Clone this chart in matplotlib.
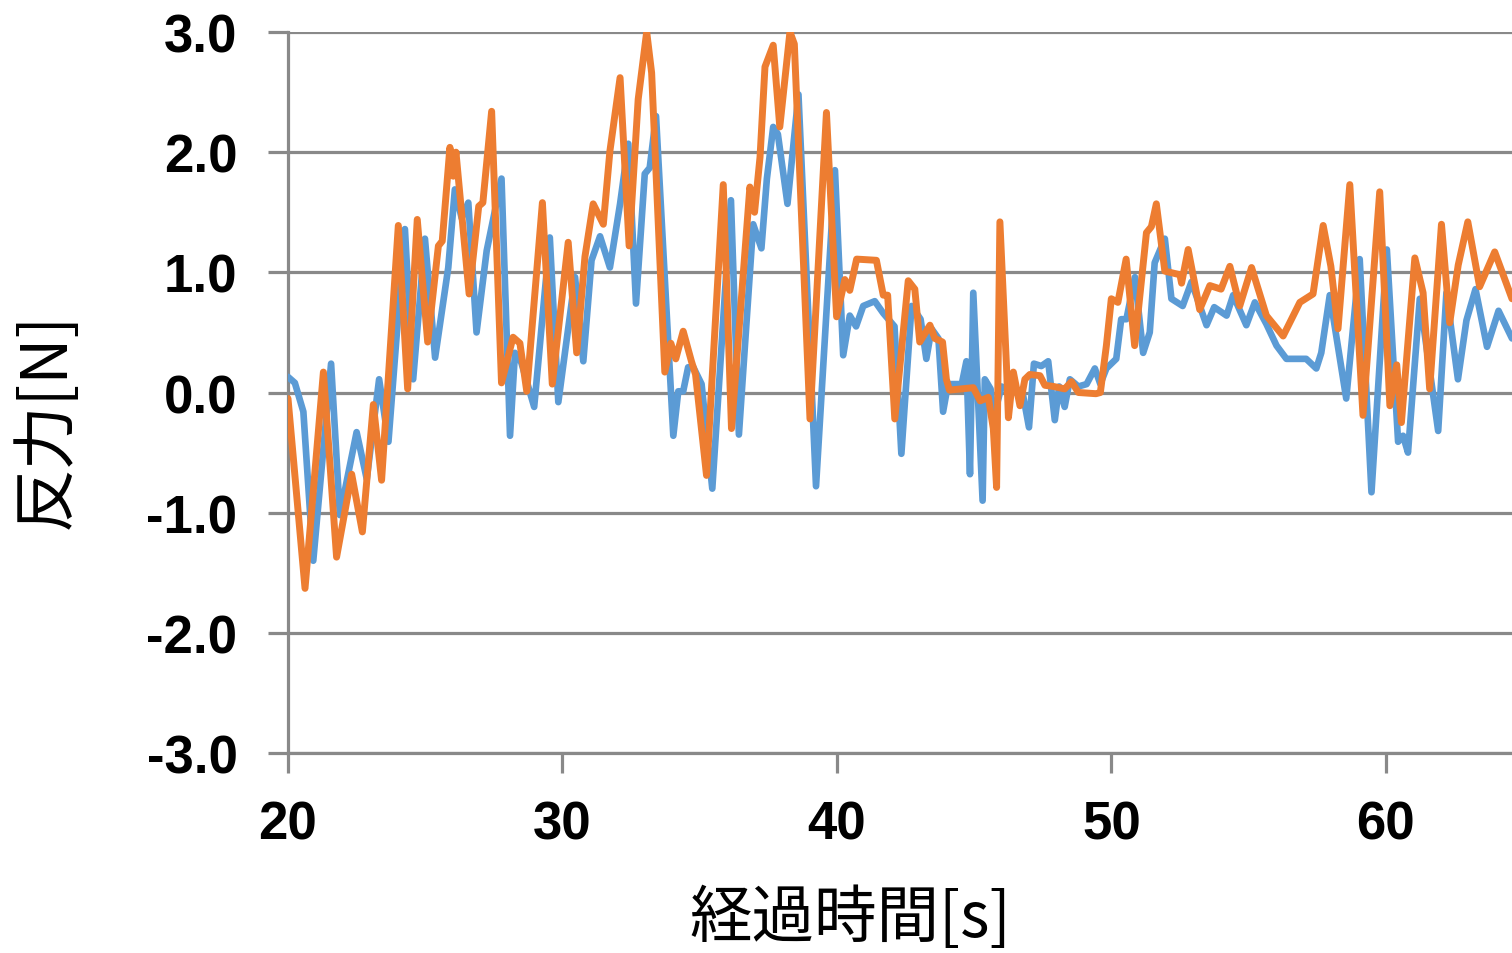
import matplotlib
matplotlib.use("Agg")
import matplotlib.pyplot as plt

# ---- data ----
t_blue = [20.00, 20.25, 20.56, 20.92, 21.57, 21.89, 22.50, 22.87, 23.32, 23.66,
          24.26, 24.56, 24.99, 25.36, 25.84, 26.08, 26.33, 26.57, 26.87, 27.24,
          27.78, 28.09, 28.27, 28.50, 28.97, 29.54, 29.85, 30.46, 30.76, 31.06,
          31.37, 31.73, 32.10, 32.40, 32.68, 33.00, 33.18, 33.41, 34.04, 34.22,
          34.40, 34.58, 34.77, 35.07, 35.46, 36.14, 36.43, 36.95, 37.25, 37.45,
          37.68, 37.85, 38.20, 38.60, 39.24, 39.93, 40.23, 40.47, 40.70, 40.96,
          41.38, 41.69, 42.10, 42.35, 42.72, 43.05, 43.26, 43.45, 43.70, 43.87,
          44.05, 44.55, 44.72, 44.85, 44.97, 45.31, 45.39, 45.60, 45.72, 46.00,
          46.40, 46.75, 47.00, 47.18, 47.45, 47.70, 47.94, 48.10, 48.30, 48.49,
          48.80, 49.10, 49.40, 49.60, 49.82, 50.18, 50.36, 50.55, 50.86, 51.16,
          51.40, 51.58, 51.95, 52.19, 52.60, 52.92, 53.47, 53.75, 54.20, 54.44,
          54.92, 55.23, 55.65, 56.02, 56.38, 57.10, 57.47, 57.65, 57.96, 58.56,
          59.05, 59.48, 60.04, 60.45, 60.63, 60.81, 61.24, 61.91, 62.21, 62.63,
          62.94, 63.27, 63.69, 64.11, 64.60]
f_blue = [0.13, 0.08, -0.16, -1.40, 0.24, -1.02, -0.33, -0.72, 0.11, -0.41,
          1.36, 0.11, 1.28, 0.29, 1.04, 1.69, 1.45, 1.58, 0.50, 1.18,
          1.78, -0.36, 0.33, 0.25, -0.12, 1.29, -0.08, 0.96, 0.26, 1.10,
          1.30, 1.04, 1.57, 2.07, 0.74, 1.82, 1.87, 2.30, -0.36, 0.01,
          0.01, 0.21, 0.21, 0.07, -0.80, 1.60, -0.35, 1.40, 1.20, 1.78,
          2.21, 2.15, 1.57, 2.48, -0.78, 1.85, 0.31, 0.64, 0.55, 0.72,
          0.76, 0.66, 0.55, -0.51, 0.72, 0.61, 0.28, 0.53, 0.45, -0.16,
          0.07, 0.07, 0.26, -0.68, 0.83, -0.90, 0.11, 0.03, -0.20, 0.05,
          0.00, 0.02, -0.29, 0.24, 0.22, 0.26, -0.23, 0.05, -0.12, 0.11,
          0.05, 0.07, 0.20, 0.07, 0.20, 0.28, 0.61, 0.61, 0.96, 0.33,
          0.50, 1.08, 1.28, 0.78, 0.72, 0.92, 0.56, 0.71, 0.64, 0.81,
          0.56, 0.75, 0.57, 0.39, 0.28, 0.28, 0.20, 0.33, 0.81, -0.05,
          1.11, -0.83, 1.19, -0.41, -0.36, -0.50, 0.78, -0.32, 0.83, 0.11,
          0.60, 0.86, 0.38, 0.68, 0.45]

t_orange = [20.00, 20.62, 21.29, 21.77, 22.32, 22.71, 23.11, 23.41, 24.02, 24.36,
            24.71, 25.09, 25.48, 25.62, 25.90, 26.02, 26.12, 26.60, 26.95, 27.10,
            27.42, 27.78, 28.20, 28.45, 28.70, 29.27, 29.63, 30.21, 30.52, 30.82,
            31.12, 31.49, 31.73, 32.10, 32.43, 32.76, 33.07, 33.25, 33.73, 33.95,
            34.13, 34.40, 34.70, 34.85, 35.25, 35.86, 36.16, 36.83, 37.00, 37.20,
            37.38, 37.68, 37.92, 38.29, 38.45, 39.02, 39.62, 39.99, 40.29, 40.47,
            40.72, 41.44, 41.69, 41.85, 42.11, 42.60, 42.84, 43.02, 43.39, 43.57,
            43.85, 43.99, 44.10, 44.97, 45.22, 45.52, 45.70, 45.82, 45.94, 46.18,
            46.25, 46.43, 46.67, 46.85, 47.03, 47.40, 47.58, 47.90, 48.30, 48.55,
            48.80, 49.44, 49.60, 49.82, 50.00, 50.24, 50.54, 50.85, 51.28, 51.46,
            51.64, 51.95, 52.50, 52.56, 52.80, 53.22, 53.59, 54.00, 54.32, 54.68,
            55.11, 55.65, 56.26, 56.87, 57.35, 57.72, 58.00, 58.26, 58.69, 59.17,
            59.78, 60.15, 60.40, 60.57, 61.06, 61.36, 61.60, 62.03, 62.33, 62.64,
            62.99, 63.42, 63.97, 64.60]
f_orange = [-0.05, -1.63, 0.17, -1.37, -0.68, -1.16, -0.10, -0.73, 1.39, 0.03,
            1.44, 0.42, 1.22, 1.26, 2.04, 1.80, 2.00, 0.82, 1.55, 1.58,
            2.34, 0.08, 0.46, 0.41, 0.01, 1.58, 0.07, 1.25, 0.33, 1.13,
            1.57, 1.40, 2.01, 2.62, 1.22, 2.44, 3.00, 2.66, 0.17, 0.41,
            0.28, 0.51, 0.26, 0.15, -0.69, 1.73, -0.30, 1.71, 1.50, 1.96,
            2.71, 2.89, 2.21, 3.00, 2.90, -0.22, 2.33, 0.63, 0.94, 0.85,
            1.11, 1.10, 0.81, 0.81, -0.22, 0.93, 0.86, 0.42, 0.56, 0.45,
            0.42, 0.11, 0.02, 0.04, -0.07, -0.04, -0.30, -0.79, 1.42, 0.22,
            -0.21, 0.17, -0.11, 0.11, 0.15, 0.14, 0.06, 0.05, 0.03, 0.09,
            0.00, -0.01, 0.00, 0.39, 0.78, 0.75, 1.11, 0.39, 1.33, 1.38,
            1.57, 1.01, 0.98, 0.91, 1.19, 0.69, 0.89, 0.86, 1.05, 0.72,
            1.04, 0.64, 0.47, 0.75, 0.82, 1.39, 1.05, 0.53, 1.73, -0.19,
            1.67, -0.11, 0.23, -0.25, 1.12, 0.83, 0.03, 1.40, 0.58, 1.06,
            1.42, 0.88, 1.17, 0.78]

x_ticks = [20, 30, 40, 50, 60]
y_ticks = [-3.0, -2.0, -1.0, 0.0, 1.0, 2.0, 3.0]
y_ticklabels = ["-3.0", "-2.0", "-1.0", "0.0", "1.0", "2.0", "3.0"]
x_label = "経過時間[s]"
y_label = "反力[N]"

GRID = "#898989"
BLUE = "#5B9BD5"
ORANGE = "#ED7D31"

W, H = 1512, 954
fig = plt.figure(figsize=(W / 100, H / 100), dpi=100)
ax = fig.add_axes([288 / W, 1 - 754 / H, (W - 288) / W, 721 / H])

ax.plot(t_blue, f_blue, color=BLUE, lw=4.8, solid_joinstyle="round",
        solid_capstyle="round", zorder=3)
ax.plot(t_orange, f_orange, color=ORANGE, lw=5.0, solid_joinstyle="round",
        solid_capstyle="round", zorder=4)

ax.set_xlim(20, 64.6)
ax.set_ylim(-3.0, 3.0)
ax.set_xticks(x_ticks)
ax.set_xticklabels([str(v) for v in x_ticks])
ax.set_yticks(y_ticks)
ax.set_yticklabels(y_ticklabels)

for s in ("top", "right"):
    ax.spines[s].set_visible(False)
for s in ("left", "bottom"):
    ax.spines[s].set_color(GRID)
    ax.spines[s].set_linewidth(2.3)

ax.yaxis.grid(True, color=GRID, lw=2.3, zorder=1)
ax.xaxis.grid(False)
ax.set_axisbelow(True)

ax.tick_params(axis="both", direction="out", length=14.4, width=2.3, color=GRID)
ax.tick_params(axis="y", pad=22)
ax.tick_params(axis="x", pad=19)
for lab in ax.get_xticklabels() + ax.get_yticklabels():
    lab.set_fontfamily(["Liberation Sans", "DejaVu Sans"])
    lab.set_fontweight("bold")
    lab.set_fontsize(38)

cjk = ["Noto Sans CJK JP", "DejaVu Sans"]
fig.text(850 / W, 1 - 919 / H, x_label, ha="center", va="center",
         fontsize=45, family=cjk)
fig.text(46 / W, 1 - 420 / H, y_label, ha="center", va="center",
         fontsize=46, family=cjk, rotation=90)

fig.savefig("out.png", dpi=100)
